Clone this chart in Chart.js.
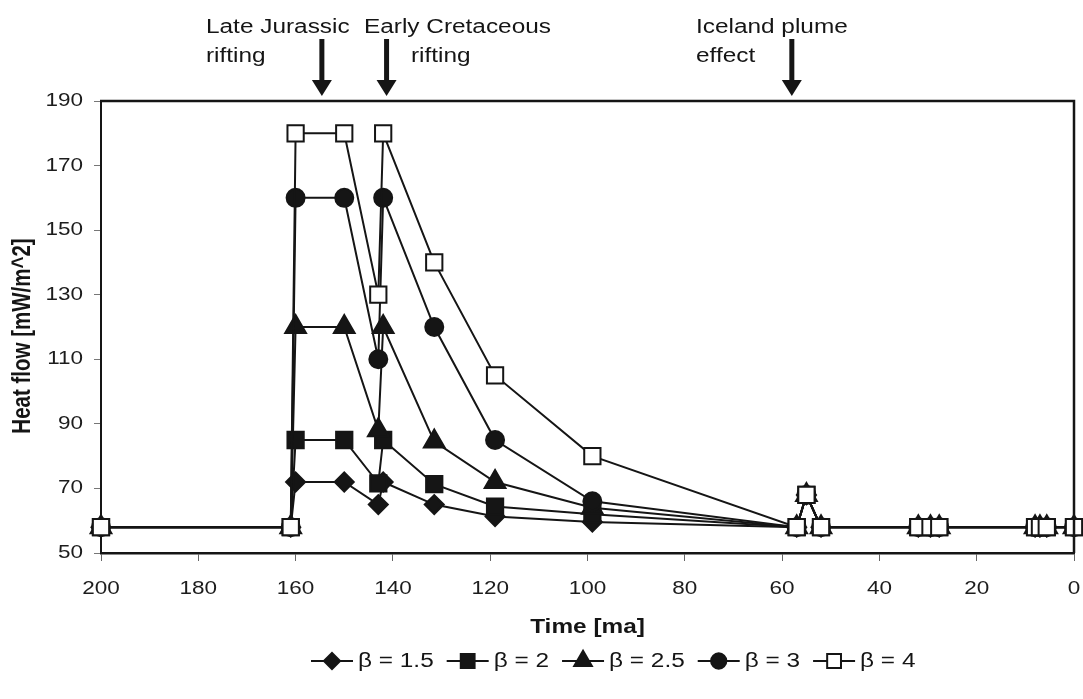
<!DOCTYPE html>
<html>
<head>
<meta charset="utf-8">
<script src="https://cdn.jsdelivr.net/npm/chart.js@4.4.1/dist/chart.umd.min.js"></script>
<style>
  html, body { margin: 0; padding: 0; background: #fff; }
  #wrap { width: 1083px; height: 699px; }
</style>
</head>
<body>
<div id="wrap"><canvas id="c" width="1083" height="699"></canvas></div>
<script>
// ---------- data ----------
const times   = [200, 161, 160, 150, 143, 142, 131.5, 119, 99, 57, 55, 52, 32, 29.5, 27.7, 8, 7, 5.6, 0];
const beta15  = [58, 58, 72, 72, 65, 72, 65, 61.3, 59.6, 58, 68, 58, 58, 58, 58, 58, 58, 58, 58];
const beta2   = [58, 58, 85, 85, 71.6, 85, 71.3, 64.4, 62, 58, 68, 58, 58, 58, 58, 58, 58, 58, 58];
const beta25  = [58, 58, 120, 120, 88, 120, 84.5, 72, 64, 58, 68, 58, 58, 58, 58, 58, 58, 58, 58];
const beta3   = [58, 58, 160, 160, 110, 160, 120, 85, 66, 58, 68, 58, 58, 58, 58, 58, 58, 58, 58];
const beta4   = [58, 58, 180, 180, 130, 180, 140, 105, 80, 58, 68, 58, 58, 58, 58, 58, 58, 58, 58];
const seriesLabels = ['β = 1.5', 'β = 2', 'β = 2.5', 'β = 3', 'β = 4'];
const xTitle = 'Time [ma]';
const yTitle = 'Heat flow [mW/m^2]';
const events = [
  { t: 154.6, lines: ['Late Jurassic', 'rifting'], tx: [206, 206] },
  { t: 141.3, lines: ['Early Cretaceous', 'rifting'], tx: [364, 411] },
  { t: 58,    lines: ['Iceland plume', 'effect'], tx: [696, 696] }
];

// ---------- text stretch (reference text is horizontally widened) ----------
const STRETCH = 1.25;
const canvas = document.getElementById('c');
const ctx = canvas.getContext('2d');
const origFillText = CanvasRenderingContext2D.prototype.fillText;
const origMeasure = CanvasRenderingContext2D.prototype.measureText;
ctx.fillText = function (text, x, y, maxWidth) {
  this.save();
  this.translate(x, y);
  const m = this.getTransform();
  this.setTransform(m.a * STRETCH, m.b, m.c * STRETCH, m.d, m.e, m.f);
  if (maxWidth === undefined) origFillText.call(this, text, 0, 0);
  else origFillText.call(this, text, 0, 0, maxWidth / STRETCH);
  this.restore();
};

const FONT = '"Liberation Sans", Arial, Helvetica, sans-serif';
const INK = '#151515';

function pts(vals) { return times.map((t, i) => ({ x: t, y: vals[i] })); }

const styles = [
  { pointStyle: 'rectRot',  radius: 9.5, bg: INK },
  { pointStyle: 'rect',     radius: 11.5, bg: INK },
  { pointStyle: 'triangle', radius: 12, bg: INK },
  { pointStyle: 'circle',   radius: 9, bg: INK },
  { pointStyle: 'rect',     radius: 11.5, bg: '#ffffff' }
];
const values = [beta15, beta2, beta25, beta3, beta4];

const datasets = values.map((v, i) => ({
  label: seriesLabels[i],
  data: pts(v),
  borderColor: INK,
  borderWidth: 2,
  pointStyle: styles[i].pointStyle,
  pointRadius: styles[i].radius,
  pointHoverRadius: styles[i].radius,
  pointBackgroundColor: styles[i].bg,
  pointBorderColor: INK,
  pointBorderWidth: 2,
  tension: 0,
  clip: false,
  order: 4 - i
}));

const decor = {
  id: 'decor',
  afterDraw(chart) {
    const c = chart.ctx;
    const a = chart.chartArea;
    const xs = chart.scales.x;
    c.save();
    // top & right frame lines
    c.strokeStyle = INK;
    c.lineWidth = 2.5;
    c.beginPath();
    c.moveTo(a.left - 1, a.top);
    c.lineTo(a.right, a.top);
    c.lineTo(a.right, a.bottom);
    c.stroke();

    // event annotations and arrows
    c.fillStyle = INK;
    c.font = '19.5px ' + FONT;
    c.textAlign = 'left';
    c.textBaseline = 'alphabetic';
    events.forEach(ev => {
      c.fillText(ev.lines[0], ev.tx[0], 33);
      c.fillText(ev.lines[1], ev.tx[1], 62);
      const px = xs.getPixelForValue(ev.t);
      c.fillRect(px - 2.5, 39, 5, 42);
      c.beginPath();
      c.moveTo(px - 10, 80);
      c.lineTo(px + 10, 80);
      c.lineTo(px, 96);
      c.closePath();
      c.fill();
    });

    // axis titles
    c.font = 'bold 19.5px ' + FONT;
    c.textAlign = 'center';
    c.textBaseline = 'middle';
    c.fillText(xTitle, (a.left + a.right) / 2, 628);
    c.save();
    c.font = 'bold 20.5px ' + FONT;
    c.translate(23, 336);
    c.rotate(-Math.PI / 2);
    c.fillText(yTitle, 0, 0);
    c.restore();

    // legend
    const ly = 661;
    let lx = 311;
    c.font = '19.5px ' + FONT;
    c.textAlign = 'left';
    c.textBaseline = 'middle';
    datasets.forEach((ds, i) => {
      c.strokeStyle = INK;
      c.lineWidth = 2;
      c.beginPath();
      c.moveTo(lx, ly);
      c.lineTo(lx + 42, ly);
      c.stroke();
      c.fillStyle = styles[i].bg;
      c.strokeStyle = INK;
      c.lineWidth = 2;
      Chart.helpers.drawPoint(c, {
        pointStyle: styles[i].pointStyle,
        radius: styles[i].radius * 0.85,
        rotation: 0,
        borderWidth: 2
      }, lx + 21, ly);
      c.fillStyle = INK;
      c.fillText(ds.label, lx + 47, ly + 1);
      const w = origMeasure.call(c, ds.label).width * STRETCH;
      lx += 47 + w + 13;
    });
    c.restore();
  }
};

new Chart(ctx, {
  type: 'line',
  data: { datasets },
  options: {
    responsive: false,
    animation: false,
    devicePixelRatio: 1,
    layout: { autoPadding: false, padding: { top: 101, right: 9, bottom: 86, left: 0 } },
    plugins: { legend: { display: false }, tooltip: { enabled: false } },
    scales: {
      x: {
        type: 'linear',
        reverse: true,
        min: 0,
        max: 200,
        ticks: { stepSize: 20, color: '#1c1c1c', font: { family: FONT, size: 18 }, padding: 17, maxRotation: 0 },
        grid: { drawOnChartArea: false, drawTicks: true, tickLength: 8, color: '#666', lineWidth: 1 },
        border: { display: true, color: INK, width: 2.5 },
        afterFit(s) { s.height = 60; s.paddingLeft = 0; s.paddingRight = 0; }
      },
      y: {
        type: 'linear',
        min: 50,
        max: 190,
        ticks: { stepSize: 20, color: '#1c1c1c', font: { family: FONT, size: 18 }, padding: 11 },
        grid: { drawOnChartArea: false, drawTicks: true, tickLength: 7, color: '#777', lineWidth: 1 },
        border: { display: true, color: INK, width: 2 },
        afterFit(s) { s.width = 101; s.paddingTop = 0; s.paddingBottom = 0; }
      }
    }
  },
  plugins: [decor]
});
</script>
</body>
</html>
